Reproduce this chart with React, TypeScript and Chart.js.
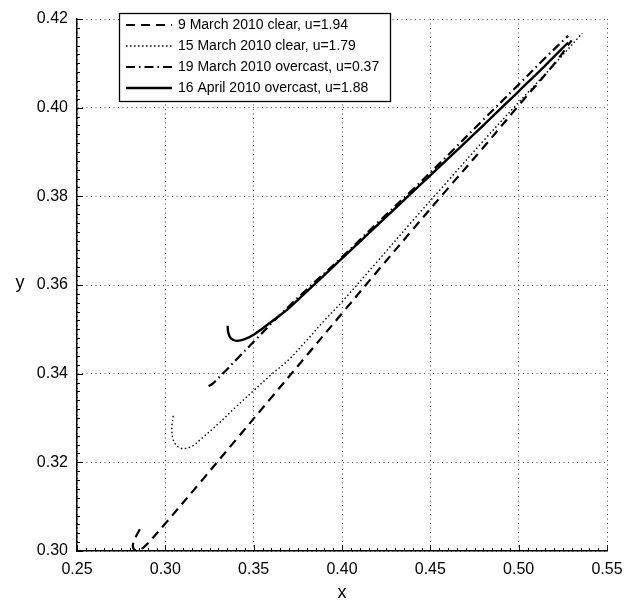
import React, { useEffect, useRef } from "react";
import { Chart, registerables } from "chart.js";
Chart.register(...registerables);

const seriesLabels = [
  "9 March 2010 clear, u=1.94",
  "15 March 2010 clear, u=1.79",
  "19 March 2010 overcast, u=0.37",
  "16 April 2010 overcast, u=1.88",
];

const mar9X = [0.2856, 0.2838, 0.2822, 0.2816, 0.2822, 0.2838, 0.286, 0.29, 0.30, 0.32, 0.34, 0.36, 0.38, 0.40, 0.42, 0.44, 0.46, 0.48, 0.50, 0.52, 0.53];
const mar9Y = [0.3049, 0.3036, 0.3022, 0.3011, 0.3004, 0.3001, 0.3003, 0.3017, 0.3062, 0.3156, 0.3251, 0.3346, 0.3441, 0.3536, 0.3631, 0.3725, 0.3818, 0.391, 0.4005, 0.4098, 0.4152];

const mar15X = [0.3045, 0.3037, 0.3043, 0.3065, 0.31, 0.315, 0.32, 0.33, 0.34, 0.35, 0.36, 0.37, 0.38, 0.39, 0.40, 0.42, 0.44, 0.46, 0.48, 0.50, 0.52, 0.536];
const mar15Y = [0.3305, 0.328, 0.3253, 0.3237, 0.3231, 0.3236, 0.3252, 0.3287, 0.3325, 0.3362, 0.3398, 0.3432, 0.3475, 0.352, 0.3562, 0.3653, 0.3745, 0.3835, 0.3925, 0.4012, 0.4097, 0.4168];

const mar19X = [0.3245, 0.327, 0.33, 0.335, 0.34, 0.35, 0.36, 0.37, 0.38, 0.40, 0.42, 0.44, 0.46, 0.48, 0.50, 0.515, 0.528];
const mar19Y = [0.3372, 0.3378, 0.339, 0.341, 0.3431, 0.3472, 0.3513, 0.3552, 0.359, 0.3663, 0.374, 0.3815, 0.3893, 0.3973, 0.4052, 0.4112, 0.4162];

const apr16X = [0.3353, 0.3355, 0.3365, 0.338, 0.3405, 0.345, 0.35, 0.355, 0.36, 0.37, 0.38, 0.40, 0.42, 0.44, 0.46, 0.48, 0.50, 0.515, 0.528];
const apr16Y = [0.3508, 0.3495, 0.3483, 0.3477, 0.3474, 0.3478, 0.3488, 0.3502, 0.3517, 0.3548, 0.3585, 0.366, 0.3735, 0.381, 0.3885, 0.396, 0.4037, 0.4095, 0.4147];

const xTicks = [0.25, 0.3, 0.35, 0.4, 0.45, 0.5, 0.55];
const yTicks = [0.3, 0.32, 0.34, 0.36, 0.38, 0.4, 0.42];

const styles = [
  { dash: [9, 6], width: 2.2 },
  { dash: [1.5, 2.5], width: 1.4 },
  { dash: [9, 4, 1.5, 4], width: 2.2 },
  { dash: [], width: 2.4 },
];

const toPts = (xs: number[], ys: number[]) => xs.map((x, i) => ({ x, y: ys[i] }));

const FONT = "'Liberation Sans', Arial, Helvetica, sans-serif";

const decorPlugin = {
  id: "decor",
  afterDraw(chart: any) {
    const ctx = chart.ctx;
    const xs = chart.scales.x;
    const ys = chart.scales.y;
    const area = chart.chartArea;
    ctx.save();
    ctx.strokeStyle = "#000";
    ctx.lineWidth = 1;
    ctx.beginPath();
    for (let v = 0.25; v <= 0.5501; v += 0.005) {
      const px = Math.round(xs.getPixelForValue(v)) + 0.5;
      const major = Math.abs(v * 20 - Math.round(v * 20)) < 1e-6;
      const len = major ? 6 : 3;
      ctx.moveTo(px, area.bottom);
      ctx.lineTo(px, area.bottom - len);
    }
    for (let v = 0.3; v <= 0.4201; v += 0.002) {
      const py = Math.round(ys.getPixelForValue(v)) + 0.5;
      const major = Math.abs(v * 50 - Math.round(v * 50)) < 1e-6;
      const len = major ? 6 : 3;
      ctx.moveTo(area.left, py);
      ctx.lineTo(area.left + len, py);
    }
    ctx.stroke();
    ctx.fillStyle = "#000";
    ctx.font = `18px ${FONT}`;
    ctx.textAlign = "center";
    ctx.textBaseline = "middle";
    ctx.fillText("y", 20, ys.getPixelForValue(0.36) - 2);
    // legend
    const bx = 119, by = 13, bw = 271, bh = 88;
    ctx.fillStyle = "#fff";
    ctx.fillRect(bx, by, bw, bh);
    ctx.strokeStyle = "#000";
    ctx.lineWidth = 1.3;
    ctx.strokeRect(bx + 0.5, by + 0.5, bw, bh);
    ctx.font = `14px ${FONT}`;
    ctx.textAlign = "left";
    ctx.textBaseline = "middle";
    seriesLabels.forEach((lab, i) => {
      const cy = by + 12 + i * 21;
      ctx.beginPath();
      ctx.setLineDash(styles[i].dash);
      ctx.lineWidth = styles[i].width;
      ctx.moveTo(bx + 7, cy);
      ctx.lineTo(bx + 53, cy);
      ctx.stroke();
      ctx.setLineDash([]);
      ctx.fillStyle = "#000";
      ctx.fillText(lab, bx + 59, cy);
    });
    ctx.restore();
  },
};

export default function App() {
  const ref = useRef<HTMLCanvasElement | null>(null);
  useEffect(() => {
    if (!ref.current) return;
    const sets = [
      toPts(mar9X, mar9Y),
      toPts(mar15X, mar15Y),
      toPts(mar19X, mar19Y),
      toPts(apr16X, apr16Y),
    ];
    const chart = new Chart(ref.current, {
      type: "scatter",
      data: {
        datasets: sets.map((d, i) => ({
          label: seriesLabels[i],
          data: d,
          showLine: true,
          pointRadius: 0,
          borderColor: "#000",
          backgroundColor: "#000",
          borderWidth: styles[i].width,
          borderDash: styles[i].dash,
          tension: 0.35,
        })),
      },
      options: {
        animation: false,
        responsive: false,
        maintainAspectRatio: false,
        layout: { padding: { left: 0, right: 36, top: 19, bottom: 0 } },
        plugins: { legend: { display: false }, tooltip: { enabled: false } },
        scales: {
          x: {
            type: "linear",
            min: 0.25,
            max: 0.55,
            afterBuildTicks: (s: any) => { s.ticks = xTicks.map((v) => ({ value: v })); },
            afterFit: (s: any) => { s.height = 54; },
            ticks: {
              color: "#000",
              font: { family: FONT, size: 16 },
              padding: 9,
              callback: (v: any) => Number(v).toFixed(2),
              maxRotation: 0,
            },
            grid: { color: "#555", lineWidth: 1, drawTicks: false },
            border: { display: true, color: "#000", width: 1.5, dash: [1, 3.5] },
            title: { display: true, text: "x", color: "#000", font: { family: FONT, size: 18 }, padding: { top: 0, bottom: 1 } },
          },
          y: {
            type: "linear",
            min: 0.3,
            max: 0.42,
            afterBuildTicks: (s: any) => { s.ticks = yTicks.map((v) => ({ value: v })); },
            afterFit: (s: any) => { s.width = 77; },
            ticks: {
              color: "#000",
              font: { family: FONT, size: 16 },
              padding: 9,
              callback: (v: any) => Number(v).toFixed(2),
            },
            grid: { color: "#555", lineWidth: 1, drawTicks: false },
            border: { display: true, color: "#000", width: 1.5, dash: [1, 3.5] },
          },
        },
      },
      plugins: [decorPlugin],
    });
    return () => chart.destroy();
  }, []);
  return (
    <div style={{ position: "absolute", left: 0, top: 0, width: 643, height: 605, background: "#fff" }}>
      <canvas ref={ref} width={643} height={605} style={{ width: 643, height: 605 }} />
    </div>
  );
}
